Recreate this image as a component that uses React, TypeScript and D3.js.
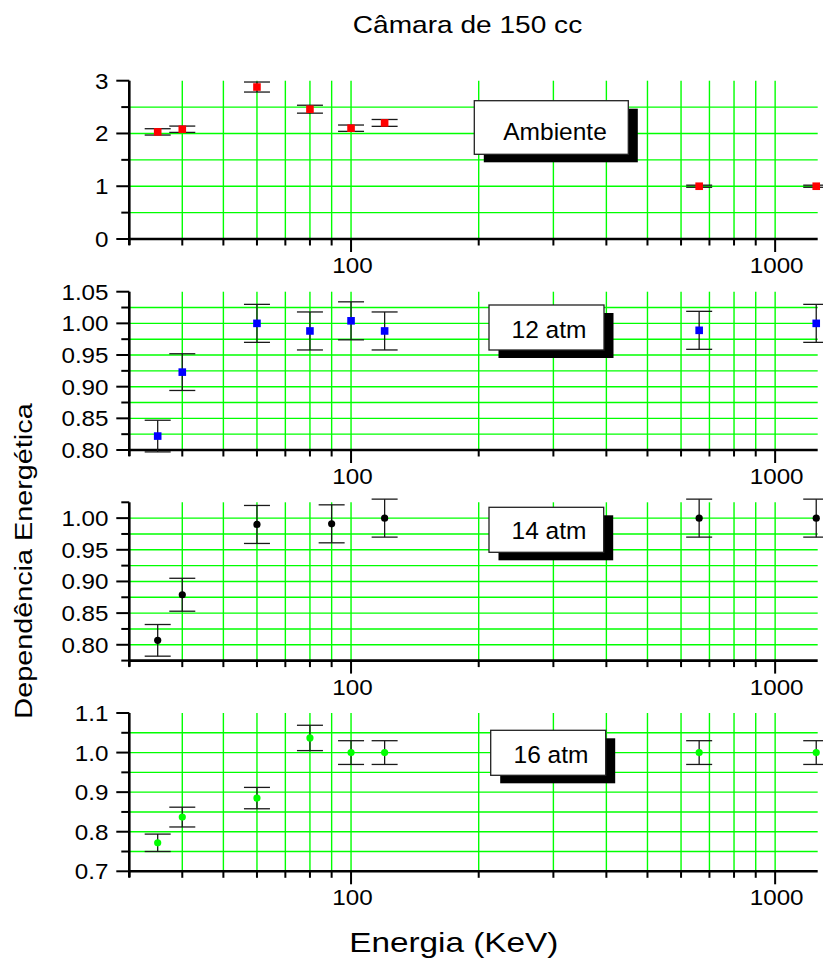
import React from "react";
import * as d3 from "d3";

// ---------- data ----------
const ambienteX = [35, 40, 60, 80, 100, 120, 662, 1250];
const ambienteY = [2.03, 2.08, 2.88, 2.46, 2.1, 2.2, 1.0, 1.0];
const ambienteErr = [0.06, 0.06, 0.095, 0.075, 0.06, 0.065, 0.02, 0.02];

const atm12X = [35, 40, 60, 80, 100, 120, 662, 1250];
const atm12Y = [0.822, 0.923, 1.0, 0.988, 1.004, 0.988, 0.989, 1.0];
const atm12Err = [0.025, 0.029, 0.03, 0.03, 0.03, 0.03, 0.03, 0.03];

const atm14X = [35, 40, 60, 90, 120, 662, 1250];
const atm14Y = [0.807, 0.879, 0.99, 0.991, 1.0, 1.0, 1.0];
const atm14Err = [0.025, 0.026, 0.03, 0.03, 0.03, 0.03, 0.03];

const atm16X = [35, 40, 60, 80, 100, 120, 662, 1250];
const atm16Y = [0.772, 0.837, 0.885, 1.037, 1.0, 1.0, 1.0, 1.0];
const atm16Err = [0.022, 0.025, 0.027, 0.032, 0.03, 0.03, 0.03, 0.03];

const xMajorTicks = [100, 1000];
const xMinorTicks = [30, 40, 50, 60, 70, 80, 90, 200, 300, 400, 500, 600, 700, 800, 900];
const xGrid = [40, 50, 60, 70, 80, 90, 100, 200, 300, 400, 500, 600, 700, 800, 900, 1000];

const p1Major = [0, 1, 2, 3];
const p1Minor = [0.5, 1.5, 2.5];
const p1Grid = [0.5, 1, 1.5, 2, 2.5];

const p2Major = [0.8, 0.85, 0.9, 0.95, 1.0, 1.05];
const p2Minor = [0.825, 0.875, 0.925, 0.975, 1.025];
const p2Grid = [0.825, 0.85, 0.875, 0.9, 0.925, 0.95, 0.975, 1.0, 1.025];

const p3Major = [0.8, 0.85, 0.9, 0.95, 1.0];
const p3Minor = [0.775, 0.825, 0.875, 0.925, 0.975, 1.025];
const p3Grid = [0.8, 0.825, 0.85, 0.875, 0.9, 0.925, 0.95, 0.975, 1.0];

const p4Major = [0.7, 0.8, 0.9, 1.0, 1.1];
const p4Minor = [0.75, 0.85, 0.95, 1.05];
const p4Grid = [0.75, 0.8, 0.85, 0.9, 0.95, 1.0, 1.05];

const titleText = "Câmara de 150 cc";
const xTitle = "Energia (KeV)";
const yTitle = "Dependência Energética";

// ---------- layout ----------
const W = 823;
const H = 958;
const X0 = 129.3;
const X1 = 817.7;
const PH = 158.3;
const FONT = "'Liberation Sans', Arial, Helvetica, sans-serif";
const GREEN = "#00ff00";

const xScale = d3.scaleLog().domain([30, 1260]).range([X0, X1]);

type Panel = {
  top: number;
  domain: [number, number];
  xs: number[];
  ys: number[];
  errs: number[];
  major: number[];
  minor: number[];
  grid: number[];
  fmt: (v: number) => string;
  marker: "square" | "circle";
  color: string;
  label: string;
  legend: { x: number; y: number; w: number; h: number; tx: number; ty: number };
};

const panels: Panel[] = [
  {
    top: 80.7,
    domain: [0, 3],
    xs: ambienteX,
    ys: ambienteY,
    errs: ambienteErr,
    major: p1Major,
    minor: p1Minor,
    grid: p1Grid,
    fmt: d3.format("d"),
    marker: "square",
    color: "#ff0000",
    label: "Ambiente",
    legend: { x: 474.3, y: 100.7, w: 154, h: 53.6, tx: 555, ty: 140 },
  },
  {
    top: 291.7,
    domain: [0.8, 1.05],
    xs: atm12X,
    ys: atm12Y,
    errs: atm12Err,
    major: p2Major,
    minor: p2Minor,
    grid: p2Grid,
    fmt: d3.format(".2f"),
    marker: "square",
    color: "#0000ff",
    label: "12 atm",
    legend: { x: 489, y: 305, w: 115, h: 45, tx: 549, ty: 337.7 },
  },
  {
    top: 502.3,
    domain: [0.775, 1.025],
    xs: atm14X,
    ys: atm14Y,
    errs: atm14Err,
    major: p3Major,
    minor: p3Minor,
    grid: p3Grid,
    fmt: d3.format(".2f"),
    marker: "circle",
    color: "#000000",
    label: "14 atm",
    legend: { x: 489, y: 507.3, w: 114.7, h: 45, tx: 549, ty: 539.3 },
  },
  {
    top: 713,
    domain: [0.7, 1.1],
    xs: atm16X,
    ys: atm16Y,
    errs: atm16Err,
    major: p4Major,
    minor: p4Minor,
    grid: p4Grid,
    fmt: d3.format(".1f"),
    marker: "circle",
    color: "#00ff00",
    label: "16 atm",
    legend: { x: 490.7, y: 730.3, w: 115, h: 45, tx: 551, ty: 762.7 },
  },
];

function SText(props: {
  x: number;
  y: number;
  size: number;
  sx?: number;
  anchor?: string;
  rotate?: number;
  children: React.ReactNode;
}) {
  const { x, y, size, sx = 1, anchor = "middle", rotate = 0, children } = props;
  return (
    <text
      transform={`translate(${x},${y}) rotate(${rotate}) scale(${sx},1)`}
      textAnchor={anchor}
      fontFamily={FONT}
      fontSize={size}
      fill="#000"
    >
      {children}
    </text>
  );
}

function PanelView({ p }: { p: Panel }) {
  const bottom = p.top + PH;
  const y = d3.scaleLinear().domain(p.domain).range([bottom, p.top]);
  const cap = 13;
  return (
    <g>
      {/* grid */}
      {xGrid.map((v) => (
        <line key={"gx" + v} x1={xScale(v)} x2={xScale(v)} y1={p.top} y2={bottom} stroke={GREEN} strokeWidth={1.4} />
      ))}
      {p.grid.map((v) => (
        <line key={"gy" + v} x1={X0} x2={X1} y1={y(v)} y2={y(v)} stroke={GREEN} strokeWidth={1.4} />
      ))}
      {/* legend */}
      <rect x={p.legend.x + 9.5} y={p.legend.y + 8} width={p.legend.w} height={p.legend.h} fill="#000" />
      <rect x={p.legend.x} y={p.legend.y} width={p.legend.w} height={p.legend.h} fill="#fff" stroke="#222" strokeWidth={1.3} />
      <SText x={p.legend.tx} y={p.legend.ty} size={24.5}>
        {p.label}
      </SText>
      {/* axes */}
      <line x1={X0} x2={X1} y1={bottom} y2={bottom} stroke="#000" strokeWidth={2.6} />
      <line x1={X0} x2={X0} y1={p.top} y2={bottom + 6} stroke="#000" strokeWidth={2.6} />
      {xMinorTicks.map((v) => (
        <line key={"xm" + v} x1={xScale(v)} x2={xScale(v)} y1={bottom} y2={bottom + 6.5} stroke="#000" strokeWidth={2} />
      ))}
      {xMajorTicks.map((v) => (
        <g key={"xM" + v}>
          <line x1={xScale(v)} x2={xScale(v)} y1={bottom} y2={bottom + 13} stroke="#000" strokeWidth={2} />
          <SText x={xScale(v) + 1.5} y={bottom + 34} size={22} sx={1.1}>
            {String(v)}
          </SText>
        </g>
      ))}
      {p.minor.map((v) => (
        <line key={"ym" + v} x1={X0 - 8} x2={X0} y1={y(v)} y2={y(v)} stroke="#000" strokeWidth={2} />
      ))}
      {p.major.map((v) => (
        <g key={"yM" + v}>
          <line x1={X0 - 13} x2={X0} y1={y(v)} y2={y(v)} stroke="#000" strokeWidth={2} />
          <SText x={108.5} y={y(v) + 8} size={22} sx={1.1} anchor="end">
            {p.fmt(v)}
          </SText>
        </g>
      ))}
      {/* error bars */}
      {p.xs.map((xv, i) => {
        const cx = xScale(xv);
        const yt = y(p.ys[i] + p.errs[i]);
        const yb = y(p.ys[i] - p.errs[i]);
        return (
          <g key={"e" + i} stroke="#1a1a1a" strokeWidth={1.3}>
            <line x1={cx} x2={cx} y1={yt} y2={yb} />
            <line x1={cx - cap} x2={cx + cap} y1={yt} y2={yt} />
            <line x1={cx - cap} x2={cx + cap} y1={yb} y2={yb} />
          </g>
        );
      })}
      {/* markers */}
      {p.xs.map((xv, i) => {
        const cx = xScale(xv);
        const cy = y(p.ys[i]);
        return p.marker === "square" ? (
          <rect key={"m" + i} x={cx - 3.8} y={cy - 3.8} width={7.6} height={7.6} fill={p.color} />
        ) : (
          <circle key={"m" + i} cx={cx} cy={cy} r={3.6} fill={p.color} />
        );
      })}
    </g>
  );
}

export default function App() {
  return (
    <svg
      width={W}
      height={H}
      viewBox={`0 0 ${W} ${H}`}
      style={{ position: "absolute", left: 0, top: 0, background: "#fff" }}
    >
      <rect x={0} y={0} width={W} height={H} fill="#fff" />
      <SText x={467.5} y={33.3} size={24} sx={1.17}>
        {titleText}
      </SText>
      {panels.map((p, i) => (
        <PanelView key={i} p={p} />
      ))}
      <SText x={453.8} y={951.7} size={28} sx={1.19}>
        {xTitle}
      </SText>
      <SText x={32} y={561} size={24} sx={1.2} rotate={-90}>
        {yTitle}
      </SText>
    </svg>
  );
}
